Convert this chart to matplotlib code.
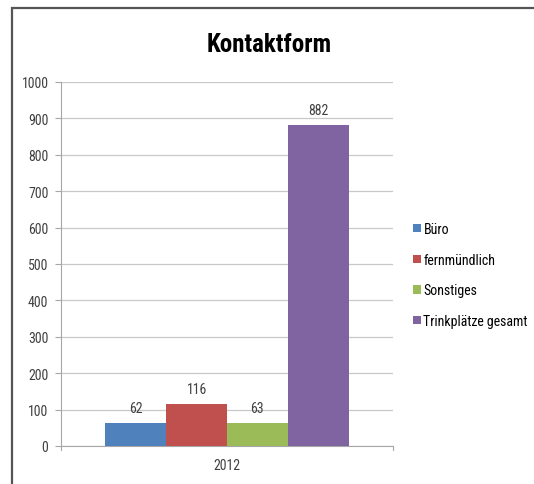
import matplotlib.pyplot as plt
from matplotlib.patches import Rectangle, Patch
from matplotlib import font_manager

# Kontaktform 2012
series = ["Büro", "fernmündlich", "Sonstiges", "Trinkplätze gesamt"]
values = [62, 116, 63, 882]
category = ["2012"]
y_ticks = [0, 100, 200, 300, 400, 500, 600, 700, 800, 900, 1000]
colors = ["#4F81BD", "#C0504D", "#9BBB59", "#8064A2"]

names = {f.name for f in font_manager.fontManager.ttflist}
candidates = ["Liberation Sans Narrow", "Roboto Condensed", "Open Sans Condensed", "Lato"]
font = next((f for f in candidates if f in names), "DejaVu Sans")
plt.rcParams["font.family"] = [font, "DejaVu Sans"]

text_gray = "#404040"
axis_gray = "#a6a6a6"

fig = plt.figure(figsize=(5.34, 4.85), dpi=100)
ax = fig.add_axes([61 / 534, 38 / 485, 332 / 534, 364 / 485])

bar_w = 0.183
n = len(series)
for i, (name, v, c) in enumerate(zip(series, values, colors)):
    x = (i - (n - 1) / 2) * bar_w
    ax.bar(x, v, width=bar_w, color=c, label=name, zorder=3)
    ax.text(x, v + 22, str(v), ha="center", va="bottom", fontsize=10, color=text_gray)

ax.set_xlim(-0.5, 0.5)
ax.set_ylim(0, 1000)
ax.set_yticks(y_ticks)
ax.set_yticklabels([str(t) for t in y_ticks], fontsize=10, color=text_gray)
ax.set_xticks([0])
ax.set_xticklabels(category, fontsize=10, color=text_gray)
ax.tick_params(axis="x", length=0, pad=9)
ax.tick_params(axis="y", length=4, color=axis_gray, pad=5)
ax.yaxis.grid(True, color="#c8c8c8", linewidth=0.9, zorder=0)

for side in ("top", "right"):
    ax.spines[side].set_visible(False)
ax.spines["left"].set_color(axis_gray)
ax.spines["bottom"].set_color(axis_gray)

# small end ticks on the category axis
for xe in (-0.5, 0.5):
    ax.plot([xe, xe], [0, -12], color=axis_gray, lw=0.8, clip_on=False)

fig.text(0.505, 0.907, "Kontaktform", ha="center", va="center",
         fontsize=18, fontweight="bold", color="black")

handles = [Patch(facecolor=c, edgecolor="none") for c in colors]
fig.legend(handles, series, loc="center left", bbox_to_anchor=(413 / 534, 1 - 276 / 485),
           frameon=False, fontsize=10, handlelength=0.55, handleheight=0.55,
           handletextpad=0.2, labelspacing=1.2, borderaxespad=0, borderpad=0)

# outer chart frame
fig.patches.append(Rectangle((12 / 534, -0.05), 1.1, 1 - 9 / 485 + 0.05,
                             transform=fig.transFigure, fill=False,
                             edgecolor="#555555", linewidth=1.6))

fig.savefig("out.png", dpi=100)
